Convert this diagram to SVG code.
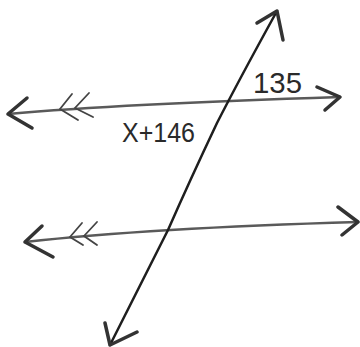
<svg xmlns="http://www.w3.org/2000/svg" width="360" height="347" viewBox="0 0 360 347">
<style>
.ln{fill:none;stroke:#5a5a5a;stroke-width:2.5;stroke-linecap:round;stroke-linejoin:round}
.tr{fill:none;stroke:#1e1e1e;stroke-width:2.5;stroke-linecap:round;stroke-linejoin:round}
.hd{fill:none;stroke:#333;stroke-width:3.5;stroke-linecap:round;stroke-linejoin:round}
.tk{fill:none;stroke:#444;stroke-width:1.8;stroke-linecap:round}
.lb{font-family:"Liberation Sans",Arial,sans-serif;fill:#2a2a2a;font-weight:normal}
</style>
<rect width="360" height="347" fill="#ffffff"/>
<g id="connectors">
<g id="top-line">
<path class="ln" d="M8,114 Q120,104 340,97"/>
<path class="hd" d="M27,98 L8,114 L32,128"/>
<path class="hd" d="M317,87 L340,97 L325,110"/>
<path class="tk" d="M72,94 L60,109 L78,120 M89,93 L75,108 L93,117"/>
</g>
<g id="bottom-line">
<path class="ln" d="M25,242 Q150,228 358,222"/>
<path class="hd" d="M42,226 L25,242 L53,257"/>
<path class="hd" d="M338,207 L358,222 L342,235"/>
<path class="tk" d="M82,223 L70,237 L83,245 M97,222 L84,236 L97,245"/>
</g>
<g id="transversal">
<path class="tr" d="M277,11 Q240,78 217,123 Q190,180 168,230 L110,345"/>
<path class="hd" d="M257,23 L277,11 L283,40"/>
<path class="hd" d="M105,323 L110,345 L137,332"/>
</g>
</g>
<g id="label-135">
<text class="lb" x="253" y="93" font-size="29" textLength="49" lengthAdjust="spacingAndGlyphs">135</text>
</g>
<g id="label-x146">
<text class="lb" x="122" y="142" font-size="27" textLength="73" lengthAdjust="spacingAndGlyphs">X+146</text>
</g>
</svg>
